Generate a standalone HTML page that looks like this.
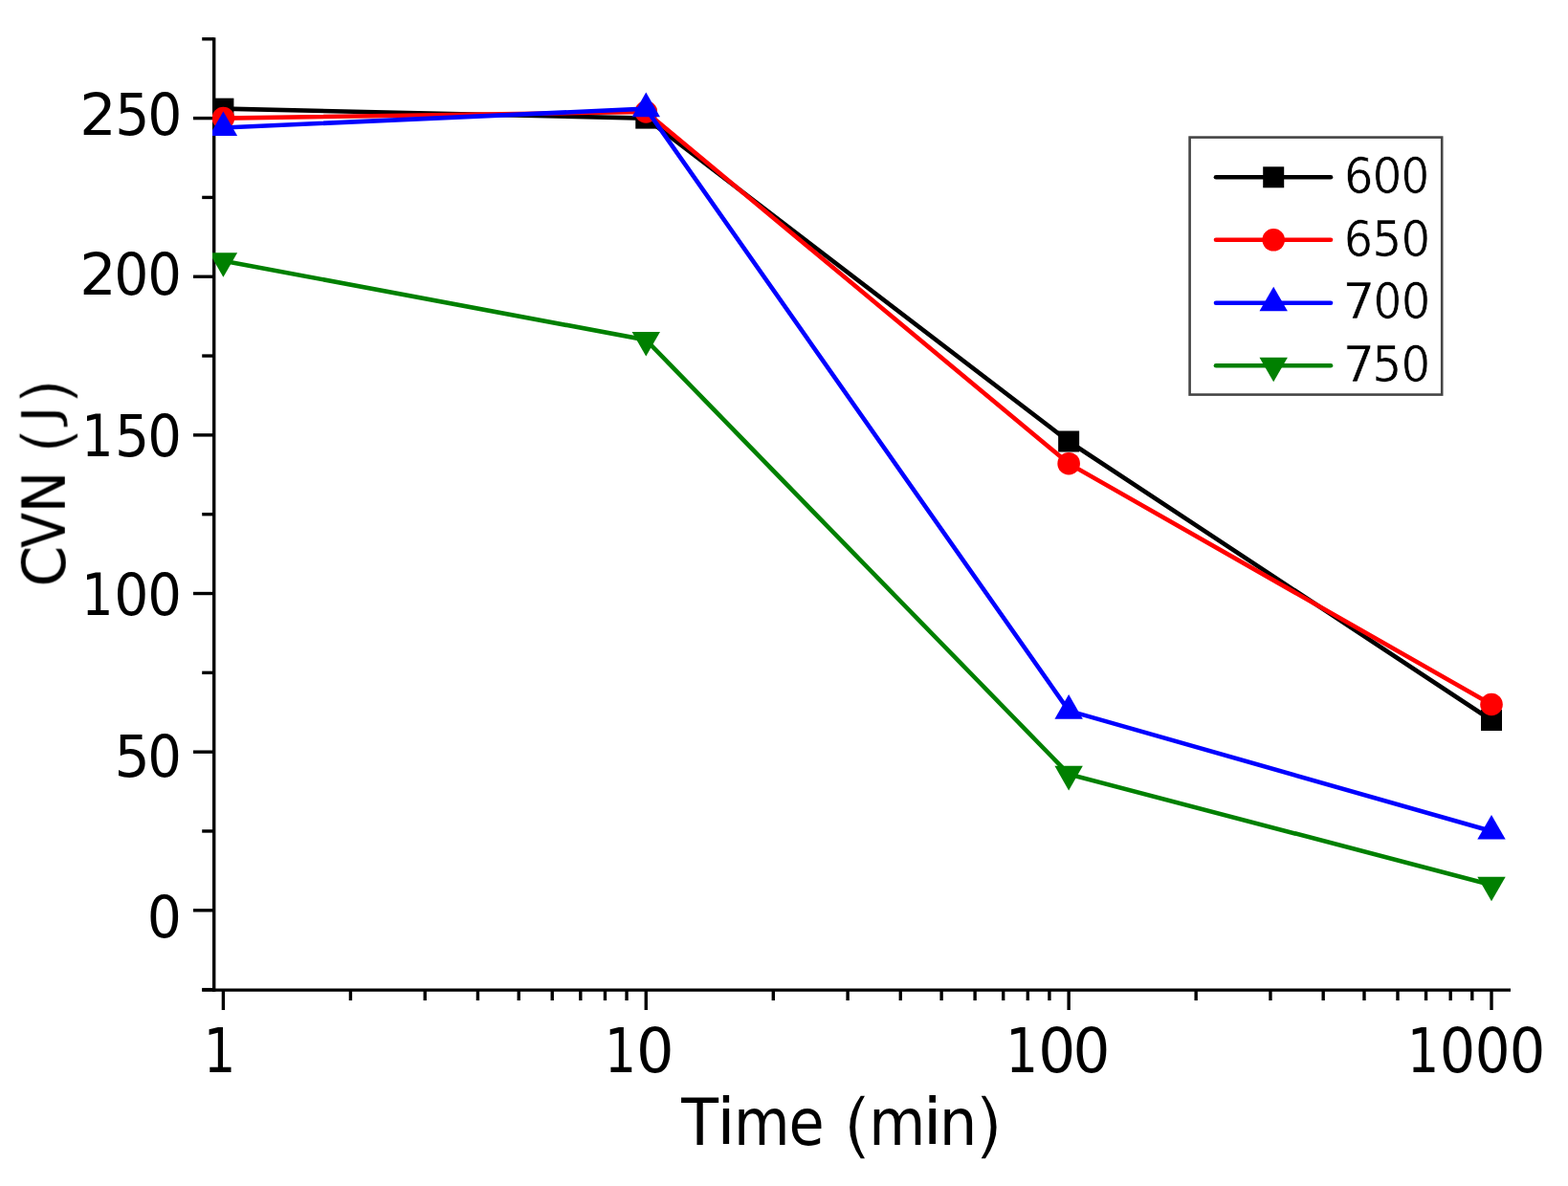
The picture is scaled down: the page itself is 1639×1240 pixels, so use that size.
<!DOCTYPE html>
<html><head><meta charset="utf-8"><title>CVN vs Time</title>
<style>html,body{margin:0;padding:0;background:#fff;overflow:hidden}svg{display:block}</style></head><body>
<svg width="1639" height="1240" viewBox="0 0 1639 1240">
<rect width="1639" height="1240" fill="#fff"/>
<defs><clipPath id="pc"><rect x="222" y="0" width="1417" height="1240"/></clipPath><filter id="bl" x="-5%" y="-5%" width="110%" height="110%"><feGaussianBlur stdDeviation="0.7"/></filter></defs>
<g filter="url(#bl)">
<g stroke="#000" stroke-width="3.4" fill="none" stroke-linecap="butt">
<line x1="223.7" y1="39.30" x2="223.7" y2="1036.80"/>
<line x1="211.2" y1="1035.10" x2="1579.0" y2="1035.10"/>
<line x1="211.2" y1="1034.62" x2="223.7" y2="1034.62"/>
<line x1="202" y1="951.80" x2="223.7" y2="951.80"/>
<line x1="211.2" y1="868.98" x2="223.7" y2="868.98"/>
<line x1="202" y1="786.16" x2="223.7" y2="786.16"/>
<line x1="211.2" y1="703.34" x2="223.7" y2="703.34"/>
<line x1="202" y1="620.52" x2="223.7" y2="620.52"/>
<line x1="211.2" y1="537.70" x2="223.7" y2="537.70"/>
<line x1="202" y1="454.88" x2="223.7" y2="454.88"/>
<line x1="211.2" y1="372.06" x2="223.7" y2="372.06"/>
<line x1="202" y1="289.24" x2="223.7" y2="289.24"/>
<line x1="211.2" y1="206.42" x2="223.7" y2="206.42"/>
<line x1="202" y1="123.60" x2="223.7" y2="123.60"/>
<line x1="211.2" y1="40.78" x2="223.7" y2="40.78"/>
<line x1="233.40" y1="1035.10" x2="233.40" y2="1056"/>
<line x1="366.42" y1="1035.10" x2="366.42" y2="1046"/>
<line x1="444.23" y1="1035.10" x2="444.23" y2="1046"/>
<line x1="499.43" y1="1035.10" x2="499.43" y2="1046"/>
<line x1="542.25" y1="1035.10" x2="542.25" y2="1046"/>
<line x1="577.24" y1="1035.10" x2="577.24" y2="1046"/>
<line x1="606.82" y1="1035.10" x2="606.82" y2="1046"/>
<line x1="632.45" y1="1035.10" x2="632.45" y2="1046"/>
<line x1="655.05" y1="1035.10" x2="655.05" y2="1046"/>
<line x1="675.27" y1="1035.10" x2="675.27" y2="1056"/>
<line x1="808.29" y1="1035.10" x2="808.29" y2="1046"/>
<line x1="886.10" y1="1035.10" x2="886.10" y2="1046"/>
<line x1="941.30" y1="1035.10" x2="941.30" y2="1046"/>
<line x1="984.12" y1="1035.10" x2="984.12" y2="1046"/>
<line x1="1019.11" y1="1035.10" x2="1019.11" y2="1046"/>
<line x1="1048.69" y1="1035.10" x2="1048.69" y2="1046"/>
<line x1="1074.32" y1="1035.10" x2="1074.32" y2="1046"/>
<line x1="1096.92" y1="1035.10" x2="1096.92" y2="1046"/>
<line x1="1117.14" y1="1035.10" x2="1117.14" y2="1056"/>
<line x1="1250.16" y1="1035.10" x2="1250.16" y2="1046"/>
<line x1="1327.97" y1="1035.10" x2="1327.97" y2="1046"/>
<line x1="1383.17" y1="1035.10" x2="1383.17" y2="1046"/>
<line x1="1425.99" y1="1035.10" x2="1425.99" y2="1046"/>
<line x1="1460.98" y1="1035.10" x2="1460.98" y2="1046"/>
<line x1="1490.56" y1="1035.10" x2="1490.56" y2="1046"/>
<line x1="1516.19" y1="1035.10" x2="1516.19" y2="1046"/>
<line x1="1538.79" y1="1035.10" x2="1538.79" y2="1046"/>
<line x1="1559.01" y1="1035.10" x2="1559.01" y2="1056"/>
</g>
<g clip-path="url(#pc)">
<polyline points="233.40,113.66 675.27,123.60 1117.14,461.51 1559.01,753.03" fill="none" stroke="#000000" stroke-width="4.6" stroke-linejoin="miter"/>
<rect x="222.40" y="102.66" width="22.0" height="22.0" fill="#000000"/>
<rect x="664.27" y="112.60" width="22.0" height="22.0" fill="#000000"/>
<rect x="1106.14" y="450.51" width="22.0" height="22.0" fill="#000000"/>
<rect x="1548.01" y="742.03" width="22.0" height="22.0" fill="#000000"/>
<polyline points="233.40,123.60 675.27,116.97 1117.14,484.70 1559.01,736.47" fill="none" stroke="#ff0000" stroke-width="4.6" stroke-linejoin="miter"/>
<circle cx="233.40" cy="123.60" r="11.8" fill="#ff0000"/>
<circle cx="675.27" cy="116.97" r="11.8" fill="#ff0000"/>
<circle cx="1117.14" cy="484.70" r="11.8" fill="#ff0000"/>
<circle cx="1559.01" cy="736.47" r="11.8" fill="#ff0000"/>
<polyline points="233.40,133.54 675.27,113.66 1117.14,743.09 1559.01,868.98" fill="none" stroke="#0000ff" stroke-width="4.6" stroke-linejoin="miter"/>
<polygon points="233.40,116.47 248.10,142.07 218.70,142.07" fill="#0000ff"/>
<polygon points="675.27,96.59 689.97,122.19 660.57,122.19" fill="#0000ff"/>
<polygon points="1117.14,726.03 1131.84,751.63 1102.44,751.63" fill="#0000ff"/>
<polygon points="1559.01,851.91 1573.71,877.51 1544.31,877.51" fill="#0000ff"/>
<polyline points="233.40,272.68 675.27,355.50 1117.14,809.35 1559.01,925.30" fill="none" stroke="#008000" stroke-width="4.6" stroke-linejoin="miter"/>
<polygon points="233.40,289.74 248.10,264.14 218.70,264.14" fill="#008000"/>
<polygon points="675.27,372.56 689.97,346.96 660.57,346.96" fill="#008000"/>
<polygon points="1117.14,826.42 1131.84,800.82 1102.44,800.82" fill="#008000"/>
<polygon points="1559.01,942.36 1573.71,916.76 1544.31,916.76" fill="#008000"/>
</g>
<rect x="1243.6" y="143.6" width="263.6" height="269" fill="none" stroke="#454545" stroke-width="2.6"/>
<line x1="1271" y1="185.3" x2="1391" y2="185.3" stroke="#000000" stroke-width="4.6" stroke-linecap="round"/>
<rect x="1320.20" y="174.30" width="22.0" height="22.0" fill="#000000"/>
<line x1="1271" y1="250.8" x2="1391" y2="250.8" stroke="#ff0000" stroke-width="4.6" stroke-linecap="round"/>
<circle cx="1331.20" cy="250.80" r="11.8" fill="#ff0000"/>
<line x1="1271" y1="316.7" x2="1391" y2="316.7" stroke="#0000ff" stroke-width="4.6" stroke-linecap="round"/>
<polygon points="1331.20,299.63 1345.90,325.23 1316.50,325.23" fill="#0000ff"/>
<line x1="1271" y1="382.2" x2="1391" y2="382.2" stroke="#008000" stroke-width="4.6" stroke-linecap="round"/>
<polygon points="1331.20,399.27 1345.90,373.67 1316.50,373.67" fill="#008000"/>
<g font-family="'DejaVu Sans', 'Liberation Sans', sans-serif" fill="#000">
<text y="141.15" font-size="61"><tspan x="83.37" textLength="38.45" lengthAdjust="spacingAndGlyphs">2</tspan><tspan x="120.34" textLength="36.17" lengthAdjust="spacingAndGlyphs">5</tspan><tspan x="154.21" textLength="36.16" lengthAdjust="spacingAndGlyphs">0</tspan></text>
<text y="308.20" font-size="61"><tspan x="83.37" textLength="38.45" lengthAdjust="spacingAndGlyphs">2</tspan><tspan x="119.21" textLength="36.16" lengthAdjust="spacingAndGlyphs">0</tspan><tspan x="154.26" textLength="35.66" lengthAdjust="spacingAndGlyphs">0</tspan></text>
<text y="476.60" font-size="61"><tspan x="85.16" textLength="33.20" lengthAdjust="spacingAndGlyphs">1</tspan><tspan x="119.94" textLength="36.17" lengthAdjust="spacingAndGlyphs">5</tspan><tspan x="154.26" textLength="35.66" lengthAdjust="spacingAndGlyphs">0</tspan></text>
<text y="643.00" font-size="61"><tspan x="85.16" textLength="33.20" lengthAdjust="spacingAndGlyphs">1</tspan><tspan x="119.21" textLength="36.16" lengthAdjust="spacingAndGlyphs">0</tspan><tspan x="154.26" textLength="35.66" lengthAdjust="spacingAndGlyphs">0</tspan></text>
<text y="811.60" font-size="61"><tspan x="119.41" textLength="37.24" lengthAdjust="spacingAndGlyphs">5</tspan><tspan x="154.26" textLength="35.66" lengthAdjust="spacingAndGlyphs">0</tspan></text>
<text y="980.10" font-size="61"><tspan x="153.81" textLength="36.16" lengthAdjust="spacingAndGlyphs">0</tspan></text>
<text y="1120.90" font-size="64"><tspan x="212.68" textLength="33.64" lengthAdjust="spacingAndGlyphs">1</tspan></text>
<text y="1120.90" font-size="64"><tspan x="631.89" textLength="33.06" lengthAdjust="spacingAndGlyphs">1</tspan><tspan x="665.06" textLength="39.56" lengthAdjust="spacingAndGlyphs">0</tspan></text>
<text y="1120.90" font-size="64"><tspan x="1051.16" textLength="33.79" lengthAdjust="spacingAndGlyphs">1</tspan><tspan x="1085.21" textLength="39.06" lengthAdjust="spacingAndGlyphs">0</tspan><tspan x="1121.42" textLength="38.93" lengthAdjust="spacingAndGlyphs">0</tspan></text>
<text y="1120.90" font-size="64"><tspan x="1471.06" textLength="33.20" lengthAdjust="spacingAndGlyphs">1</tspan><tspan x="1504.68" textLength="37.42" lengthAdjust="spacingAndGlyphs">0</tspan><tspan x="1541.84" textLength="36.79" lengthAdjust="spacingAndGlyphs">0</tspan><tspan x="1577.76" textLength="37.55" lengthAdjust="spacingAndGlyphs">0</tspan></text>
<text y="202.20" font-size="51" stroke="#fff" stroke-width="0.7"><tspan x="1404.95" textLength="30.49" lengthAdjust="spacingAndGlyphs">6</tspan><tspan x="1434.53" textLength="30.99" lengthAdjust="spacingAndGlyphs">0</tspan><tspan x="1464.56" textLength="29.73" lengthAdjust="spacingAndGlyphs">0</tspan></text>
<text y="267.70" font-size="51" stroke="#fff" stroke-width="0.7"><tspan x="1404.86" textLength="30.36" lengthAdjust="spacingAndGlyphs">6</tspan><tspan x="1434.14" textLength="31.08" lengthAdjust="spacingAndGlyphs">5</tspan><tspan x="1464.56" textLength="30.74" lengthAdjust="spacingAndGlyphs">0</tspan></text>
<text y="333.45" font-size="51" stroke="#fff" stroke-width="0.7"><tspan x="1403.18" textLength="34.38" lengthAdjust="spacingAndGlyphs">7</tspan><tspan x="1435.55" textLength="29.86" lengthAdjust="spacingAndGlyphs">0</tspan><tspan x="1464.77" textLength="30.62" lengthAdjust="spacingAndGlyphs">0</tspan></text>
<text y="399.20" font-size="51" stroke="#fff" stroke-width="0.7"><tspan x="1403.64" textLength="33.84" lengthAdjust="spacingAndGlyphs">7</tspan><tspan x="1434.14" textLength="31.08" lengthAdjust="spacingAndGlyphs">5</tspan><tspan x="1464.56" textLength="30.74" lengthAdjust="spacingAndGlyphs">0</tspan></text>
<text y="1196.70" font-size="67"><tspan x="712.22" textLength="38.72" lengthAdjust="spacingAndGlyphs">T</tspan><tspan x="749.25" textLength="19.45" lengthAdjust="spacingAndGlyphs">i</tspan><tspan x="766.89" textLength="58.57" lengthAdjust="spacingAndGlyphs">m</tspan><tspan x="824.48" textLength="37.16" lengthAdjust="spacingAndGlyphs">e</tspan> <tspan x="880.27" textLength="31.76" lengthAdjust="spacingAndGlyphs" font-size="74" stroke="#fff" stroke-width="1.6" dy="5.00">(</tspan><tspan x="908.33" textLength="59.18" lengthAdjust="spacingAndGlyphs" dy="-5.00">m</tspan><tspan x="964.43" textLength="20.38" lengthAdjust="spacingAndGlyphs">i</tspan><tspan x="981.77" textLength="39.68" lengthAdjust="spacingAndGlyphs">n</tspan><tspan x="1017.68" textLength="31.76" lengthAdjust="spacingAndGlyphs" font-size="74" stroke="#fff" stroke-width="1.6" dy="5.00">)</tspan></text>
<g transform="translate(67.75 610.6) rotate(-90)"><text y="0.00" font-size="62"><tspan x="-2.99" textLength="43.08" lengthAdjust="spacingAndGlyphs">C</tspan><tspan x="37.66" textLength="36.93" lengthAdjust="spacingAndGlyphs">V</tspan><tspan x="74.25" textLength="43.79" lengthAdjust="spacingAndGlyphs">N</tspan> <tspan x="135.31" textLength="29.61" lengthAdjust="spacingAndGlyphs" font-size="69" stroke="#fff" stroke-width="1.6" dy="5.00">(</tspan><tspan x="167.55" textLength="19.94" lengthAdjust="spacingAndGlyphs" font-size="52" stroke="#fff" stroke-width="0.6" dy="-13.50">J</tspan><tspan x="186.56" textLength="29.48" lengthAdjust="spacingAndGlyphs" font-size="69" stroke="#fff" stroke-width="1.6" dy="13.50">)</tspan></text></g>
</g>
</g>
</svg></body></html>
